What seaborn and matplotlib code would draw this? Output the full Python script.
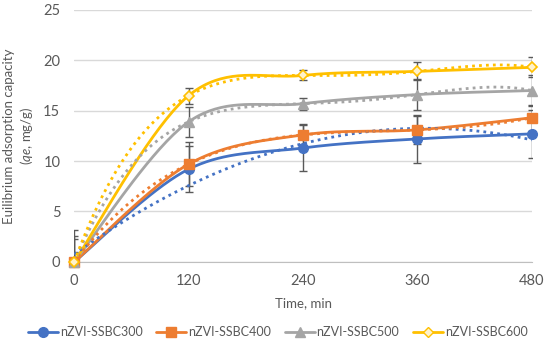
import numpy as np
import pandas as pd
import matplotlib.pyplot as plt
import seaborn as sns

time = [0, 120, 240, 360, 480]
names = ['nZVI-SSBC300', 'nZVI-SSBC400', 'nZVI-SSBC500', 'nZVI-SSBC600']
qe_300 = [0, 9.2, 11.3, 12.2, 12.7]
qe_400 = [0, 9.7, 12.6, 13.1, 14.3]
qe_500 = [0, 13.9, 15.7, 16.6, 17.0]
qe_600 = [0, 16.5, 18.5, 18.9, 19.3]
err_300 = [3.2, 2.3, 2.3, 2.35, 2.4]
err_400 = [2.6, 2.2, 1.1, 1.4, 1.3]
err_500 = [2.3, 1.5, 0.6, 1.5, 1.5]
err_600 = [1.0, 0.8, 0.5, 0.9, 1.0]
# polynomial order of each trendline
trend_order = [2, 4, 4, 4]

colors = ['#4472C4', '#ED7D31', '#A5A5A5', '#FFC000']
markers = ['o', 's', '^', 'D']

sns.set_style("white")
plt.rcParams['font.family'] = ['Lato', 'DejaVu Sans']
plt.rcParams['mathtext.fontset'] = 'custom'
plt.rcParams['mathtext.it'] = 'Lato:italic'
plt.rcParams['mathtext.rm'] = 'Lato'


def smooth(x, y, n=40):
    # catmull-rom like the excel smoothed line
    x = np.asarray(x, float)
    y = np.asarray(y, float)
    px = np.concatenate([[x[0]], x, [x[-1]]])
    py = np.concatenate([[y[0]], y, [y[-1]]])
    xs, ys = [], []
    t = np.linspace(0, 1, n)
    for i in range(1, len(px) - 2):
        p0, p1, p2, p3 = [np.array([px[j], py[j]]) for j in range(i - 1, i + 3)]
        c1 = p1 + (p2 - p0) / 6
        c2 = p2 - (p3 - p1) / 6
        pts = ((1 - t)[:, None] ** 3 * p1 + 3 * ((1 - t) ** 2 * t)[:, None] * c1
               + 3 * ((1 - t) * t ** 2)[:, None] * c2 + (t ** 3)[:, None] * p2)
        xs.extend(pts[:, 0])
        ys.extend(pts[:, 1])
    return xs, ys


fig, ax = plt.subplots(figsize=(5.5, 3.41), dpi=100)
fig.subplots_adjust(left=0.135, right=0.967, top=0.971, bottom=0.232)

series = [qe_300, qe_400, qe_500, qe_600]
errs = [err_300, err_400, err_500, err_600]

for name, y, e, c, m, od in zip(names, series, errs, colors, markers, trend_order):
    sx, sy = smooth(time, y)
    ax.plot(sx, sy, color=c, lw=2, zorder=3, clip_on=False)
    ax.errorbar(time, y, yerr=e, fmt='none', ecolor='#595959', elinewidth=1,
                capsize=3, capthick=1, zorder=4)
    if m == 'D':
        ax.plot(time, y, ls='none', marker=m, ms=5.5, mfc='#FFF2CC', mec=c,
                mew=1.2, zorder=6, clip_on=False)
    else:
        ms = 7 if m != '^' else 7.5
        ax.plot(time, y, ls='none', marker=m, ms=ms, color=c, zorder=6, clip_on=False)
    sns.regplot(x=time, y=y, order=od, ci=None, scatter=False, ax=ax, truncate=True,
                line_kws=dict(color=c, ls=(0, (1, 1.5)), lw=2, zorder=5))

handles = []
for name, c, m in zip(names, colors, markers):
    if m == 'D':
        h, = ax.plot([], [], color=c, lw=2, marker=m, ms=5.5, mfc='#FFF2CC', mec=c, label=name)
    else:
        h, = ax.plot([], [], color=c, lw=2, marker=m, ms=7, label=name)
    handles.append(h)

ax.set_xlim(0, 480)
ax.set_ylim(0, 25)
ax.set_xticks(time)
ax.set_yticks([0, 5, 10, 15, 20, 25])
ax.yaxis.grid(True, color='#D9D9D9', lw=1)
ax.set_axisbelow(True)
for s in ['top', 'right', 'left']:
    ax.spines[s].set_visible(False)
ax.spines['bottom'].set_color('#BFBFBF')
ax.tick_params(axis='x', length=4, color='#BFBFBF', labelsize=10.5, labelcolor='#595959', pad=5)
ax.tick_params(axis='y', length=0, labelsize=10.5, labelcolor='#595959', pad=10)
ax.set_xlabel('Time, min', fontsize=9.5, color='#595959', labelpad=6)
ax.set_ylabel('Euilibrium adsorption capacity\n($\\it{qe}$, mg/g)', fontsize=9.5,
              color='#595959', linespacing=1.25)
ax.yaxis.set_label_coords(-0.085, 0.5)

fig.legend(handles=handles, labels=names, loc='lower center', ncol=4, frameon=False,
           fontsize=9, labelcolor='#595959', handlelength=2.4, columnspacing=1.1,
           handletextpad=0.15, bbox_to_anchor=(0.505, -0.025))

fig.savefig('out.png', dpi=100)
